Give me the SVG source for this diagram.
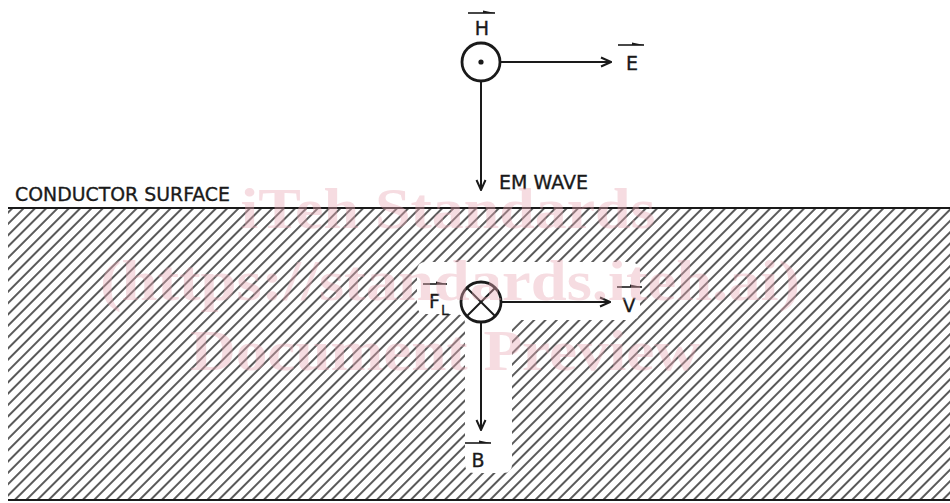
<svg xmlns="http://www.w3.org/2000/svg" width="950" height="503" viewBox="0 0 950 503">
  <defs>
    <pattern id="hatch" patternUnits="userSpaceOnUse" width="8" height="8" patternTransform="rotate(45)">
      <line x1="4" y1="0" x2="4" y2="8" stroke="#222" stroke-width="1.5"/>
    </pattern>
    <marker id="arr" viewBox="0 0 12 12" refX="11" refY="6" markerWidth="12" markerHeight="12" markerUnits="userSpaceOnUse" orient="auto">
      <path d="M1,1.5 L11,6 L1,10.5" fill="none" stroke="#1a1a1a" stroke-width="2"/>
    </marker>
  </defs>
  <style>
    .lbl{font-family:"DejaVu Sans","Liberation Sans",sans-serif;font-size:19px;fill:#1a1a1a;stroke:#1a1a1a;stroke-width:0.35}
    .sub{font-family:"DejaVu Sans","Liberation Sans",sans-serif;font-size:14px;fill:#1a1a1a;stroke:#1a1a1a;stroke-width:0.3}
    .ln{stroke:#1a1a1a;stroke-width:2;fill:none}
    .vec{stroke:#1a1a1a;stroke-width:1.6;fill:none}
    .vh{fill:#1a1a1a}
    .node{fill:#fff;stroke:#1a1a1a;stroke-width:2.8}
    .wm{font-family:"Liberation Serif",serif;font-weight:bold;fill:#e9a9b5;opacity:0.4}
  </style>

  <rect width="950" height="503" fill="#fff"/>

  <g id="conductor">
    <rect x="8" y="208" width="942" height="292" fill="url(#hatch)"/>
    <path d="M426,262 H630 Q640,262 640,272 V310 Q640,320 630,320 H521 Q512,320 512,329 V464 Q512,473 503,473 H474 Q465,473 465,464 V324 Q465,314 456,314 H426 Q417,314 417,305 V271 Q417,262 426,262 Z" fill="#fff"/>
    <line x1="8" y1="208" x2="950" y2="208" stroke="#1a1a1a" stroke-width="2.2"/>
    <line x1="8" y1="500" x2="950" y2="500" stroke="#1a1a1a" stroke-width="2.2"/>
    <text class="lbl" x="15" y="201" textLength="215" lengthAdjust="spacingAndGlyphs">CONDUCTOR SURFACE</text>
  </g>

  <g id="connectors">
    <line class="ln" x1="500" y1="62" x2="611" y2="62" marker-end="url(#arr)"/>
    <line class="ln" x1="481" y1="81" x2="481" y2="190" marker-end="url(#arr)"/>
    <line class="ln" x1="500" y1="302" x2="610" y2="302" marker-end="url(#arr)"/>
    <line class="ln" x1="481" y1="322" x2="481" y2="430" marker-end="url(#arr)"/>
  </g>

  <g id="node-H">
    <circle class="node" cx="481" cy="62" r="19"/>
    <circle cx="481" cy="62" r="2.6" fill="#1a1a1a"/>
    <line class="vec" x1="468" y1="13" x2="495" y2="13"/>
    <path class="vh" d="M483,10.5 L495,13 L483,13 Z"/>
    <text class="lbl" x="482" y="35" text-anchor="middle">H</text>
  </g>

  <g id="label-E">
    <line class="vec" x1="618" y1="45" x2="644" y2="45"/>
    <path class="vh" d="M632,42.5 L644,45 L632,45 Z"/>
    <text class="lbl" x="632" y="70" text-anchor="middle">E</text>
  </g>

  <g id="label-EM">
    <text class="lbl" x="499" y="189" textLength="89" lengthAdjust="spacingAndGlyphs">EM WAVE</text>
  </g>

  <g id="node-FL">
    <circle class="node" cx="481" cy="302" r="20"/>
    <line class="ln" x1="467" y1="288" x2="495" y2="316"/>
    <line class="ln" x1="495" y1="288" x2="467" y2="316"/>
    <line class="vec" x1="423" y1="284" x2="447" y2="284"/>
    <path class="vh" d="M436,281.5 L447,284 L436,284 Z"/>
    <text class="lbl" x="429" y="308">F</text>
    <text class="sub" x="441" y="315">L</text>
  </g>

  <g id="label-V">
    <line class="vec" x1="617" y1="287" x2="642" y2="287"/>
    <path class="vh" d="M630,284.5 L642,287 L630,287 Z"/>
    <text class="lbl" x="629" y="312" text-anchor="middle">V</text>
  </g>

  <g id="label-B">
    <line class="vec" x1="465" y1="443" x2="491" y2="443"/>
    <path class="vh" d="M479,440.5 L491,443 L479,443 Z"/>
    <text class="lbl" x="478" y="467" text-anchor="middle">B</text>
  </g>

  <g id="watermark">
    <text class="wm" x="448" y="228" font-size="56" text-anchor="middle" textLength="415" lengthAdjust="spacingAndGlyphs">iTeh Standards</text>
    <text class="wm" x="450" y="300" font-size="56" text-anchor="middle" textLength="700" lengthAdjust="spacingAndGlyphs">(https://standards.iteh.ai)</text>
    <text class="wm" x="445" y="370" font-size="56" text-anchor="middle" textLength="510" lengthAdjust="spacingAndGlyphs">Document Preview</text>
  </g>
</svg>
